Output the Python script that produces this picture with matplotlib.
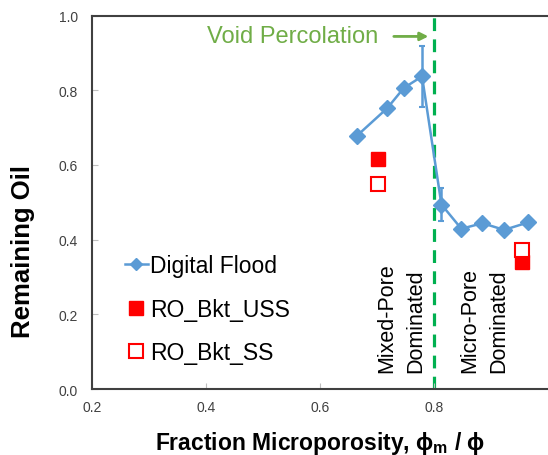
import matplotlib
matplotlib.use("Agg")
import matplotlib.pyplot as plt

plt.rcParams['font.family'] = ['Liberation Sans', 'DejaVu Sans']
plt.rcParams['mathtext.fontset'] = 'custom'
plt.rcParams['mathtext.rm'] = 'Liberation Sans'
plt.rcParams['mathtext.it'] = 'Liberation Sans:italic'
plt.rcParams['mathtext.bf'] = 'Liberation Sans:bold'

# Data
flood_x = [0.664, 0.718, 0.747, 0.779, 0.813, 0.848, 0.885, 0.923, 0.965]
flood_y = [0.677, 0.752, 0.806, 0.837, 0.494, 0.429, 0.444, 0.426, 0.446]
flood_err = [0, 0, 0, 0.082, 0.044, 0, 0, 0, 0]
uss_x = [0.701, 0.954]
uss_y = [0.615, 0.340]
ss_x = [0.701, 0.954]
ss_y = [0.550, 0.371]
percolation_x = 0.8
xticks = [0.2, 0.4, 0.6, 0.8]
yticks = [0.0, 0.2, 0.4, 0.6, 0.8, 1.0]

blue = '#5B9BD5'
red = '#FF0000'
green_line = '#00B050'
green_text = '#70AD47'

fig = plt.figure(figsize=(5.48, 4.56), dpi=100)
ax = fig.add_axes([0.168, 0.1447, 0.832, 0.8191])

ax.axvline(percolation_x, color=green_line, lw=2.3, ls=(0, (4, 2.6)), zorder=1)

ax.errorbar(flood_x, flood_y, yerr=flood_err, fmt='none', ecolor=blue,
            elinewidth=1.8, capsize=2, capthick=1.5, zorder=2)
h_flood, = ax.plot(flood_x, flood_y, color=blue, lw=1.8, marker='D', markersize=8,
                   label='Digital Flood', zorder=3)
h_uss, = ax.plot(uss_x, uss_y, ls='none', marker='s', markersize=9.5, color=red,
                 label='RO_Bkt_USS', zorder=4)
h_ss, = ax.plot(ss_x, ss_y, ls='none', marker='s', markersize=9.5, markerfacecolor='white',
                markeredgecolor=red, markeredgewidth=1.5, label='RO_Bkt_SS', zorder=5)

ax.set_xlim(0.2, 1.0)
ax.set_ylim(0.0, 1.0)
ax.set_xticks(xticks)
ax.set_yticks(yticks)
ax.set_xticklabels([f'{v:.1f}' for v in xticks])
ax.set_yticklabels([f'{v:.1f}' for v in yticks])
ax.tick_params(direction='in', length=4, color='#BFBFBF', labelsize=10, labelcolor='#404040')
ax.tick_params(axis='y', pad=10)
ax.tick_params(axis='x', pad=8)
for s in ['left', 'bottom', 'top']:
    ax.spines[s].set_color('#404040')
    ax.spines[s].set_linewidth(1.5)
ax.spines['right'].set_visible(False)

ax.set_ylabel('Remaining Oil', fontsize=18.5, fontweight='bold', va='center')
ax.yaxis.set_label_coords(-0.151, 0.37)
ax.set_xlabel(r'Fraction Microporosity, $\mathbf{\phi_m}$ / $\mathbf{\phi}$', fontsize=16.5,
              fontweight='bold', va='center')
ax.xaxis.set_label_coords(0.5, -0.142)

ax.annotate('', xy=(0.795, 0.944), xytext=(0.7246, 0.944),
            arrowprops=dict(arrowstyle='-|>', color=green_text, lw=2, mutation_scale=12))
ax.text(0.702, 0.944, 'Void Percolation', color=green_text, fontsize=17, ha='right', va='center')

for xc, txt in [(0.7165, 'Mixed-Pore'), (0.7675, 'Dominated'), (0.862, 'Micro-Pore'), (0.913, 'Dominated')]:
    ax.text(xc, 0.046, txt, rotation=90, ha='center', va='bottom', fontsize=15.5)

leg = ax.legend(handles=[h_flood, h_uss, h_ss], loc='center left', bbox_to_anchor=(0.072, 0.214),
                frameon=False, fontsize=16.5, handlelength=1.0, handletextpad=0.1,
                labelspacing=0.9, borderpad=0, borderaxespad=0, numpoints=1)
leg.legend_handles[0].set_markersize(6)

fig.savefig('out.png', dpi=100)
